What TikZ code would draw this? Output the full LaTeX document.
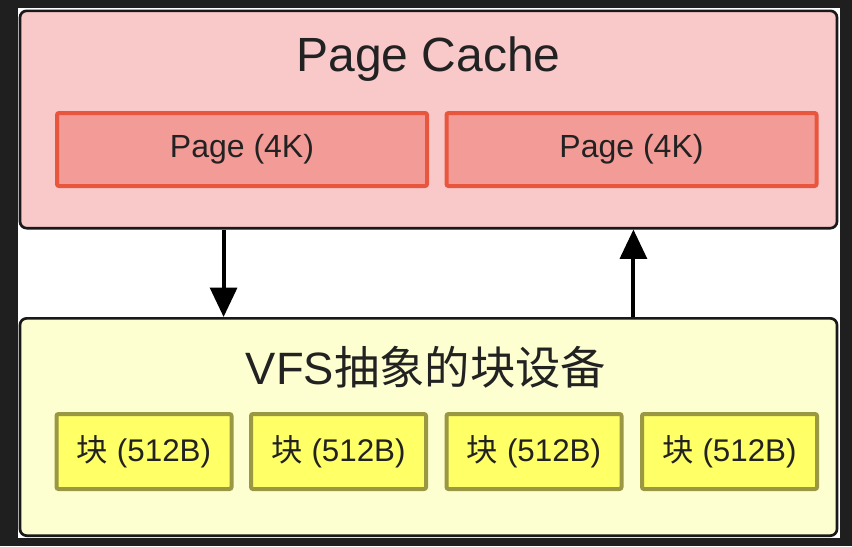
\documentclass[tikz,border=0pt]{standalone}
\usepackage{fontspec}
\setmainfont{Liberation Sans}
\newfontfamily\cjk{Noto Sans CJK SC}
\usepackage{tikz}
\usetikzlibrary{positioning,arrows.meta,calc}
\usepackage{xcolor}
\definecolor{framedark}{HTML}{1F1F1F}
\definecolor{cachefill}{HTML}{F9C9CA}
\definecolor{pagefill}{HTML}{F39B96}
\definecolor{pageline}{HTML}{E8573D}
\definecolor{vfsfill}{HTML}{FEFFD0}
\definecolor{blockfill}{HTML}{FFFF66}
\definecolor{blockline}{HTML}{9A9842}
\definecolor{inkdark}{HTML}{222222}

\begin{document}
\begin{tikzpicture}[
  x=0.75pt, y=-0.75pt,
  layer/.style={
    draw=black!90, line width=2pt, rounded corners=5pt,
    inner sep=0pt, minimum width=612.75pt, minimum height=163pt
  },
  pagebox/.style={
    draw=pageline, fill=pagefill, line width=3pt, rounded corners=1.5pt,
    inner sep=0pt, minimum width=277.5pt, minimum height=54.75pt,
    text=inkdark, font=\fontsize{24}{28}\selectfont
  },
  blockbox/.style={
    draw=blockline, fill=blockfill, line width=3pt, rounded corners=1.5pt,
    inner sep=0pt, minimum width=131.25pt, minimum height=56.25pt,
    text=inkdark, font=\fontsize{23.5}{28}\selectfont
  },
  title/.style={text=inkdark, font=\fontsize{36}{40}\selectfont},
  arrow/.style={-{Triangle[length=22pt,width=20pt]}, line width=3pt, black}
]
% frame and page
\fill[framedark] (0,0) rectangle (852,546);
\fill[white] (18,8) rectangle (840,538);
\useasboundingbox (0,0) rectangle (852,546);

% page cache layer
\node[layer, fill=cachefill] (cache) at (428.5,119.5) {};
\node[title] (cachetitle) at (428.5,59) {Page Cache};
\node[pagebox] (p1) at (242,149.5) {Page (4K)};
\node[pagebox] (p2) at (631.5,149.5) {Page (4K)};

% block device layer
\node[layer, fill=vfsfill] (vfs) at (428.5,427) {};
\node[title, font=\fontsize{34}{40}\selectfont] (vfstitle) at (426,367) {VFS{\cjk 抽象的块设备}};
\node[blockbox] (b1) at (144,451.5) {{\cjk 块} (512B)};
\node[blockbox] (b2) at (338.5,451.5) {{\cjk 块} (512B)};
\node[blockbox] (b3) at (534,451.5) {{\cjk 块} (512B)};
\node[blockbox] (b4) at (729.5,451.5) {{\cjk 块} (512B)};

% read / write
\draw[arrow] ($(cache.south west)!.25!(cache.south east)$) -- ($(vfs.north west)!.25!(vfs.north east)$);
\draw[arrow] ($(vfs.north west)!.75!(vfs.north east)$) -- ($(cache.south west)!.75!(cache.south east)$);
\end{tikzpicture}
\end{document}
